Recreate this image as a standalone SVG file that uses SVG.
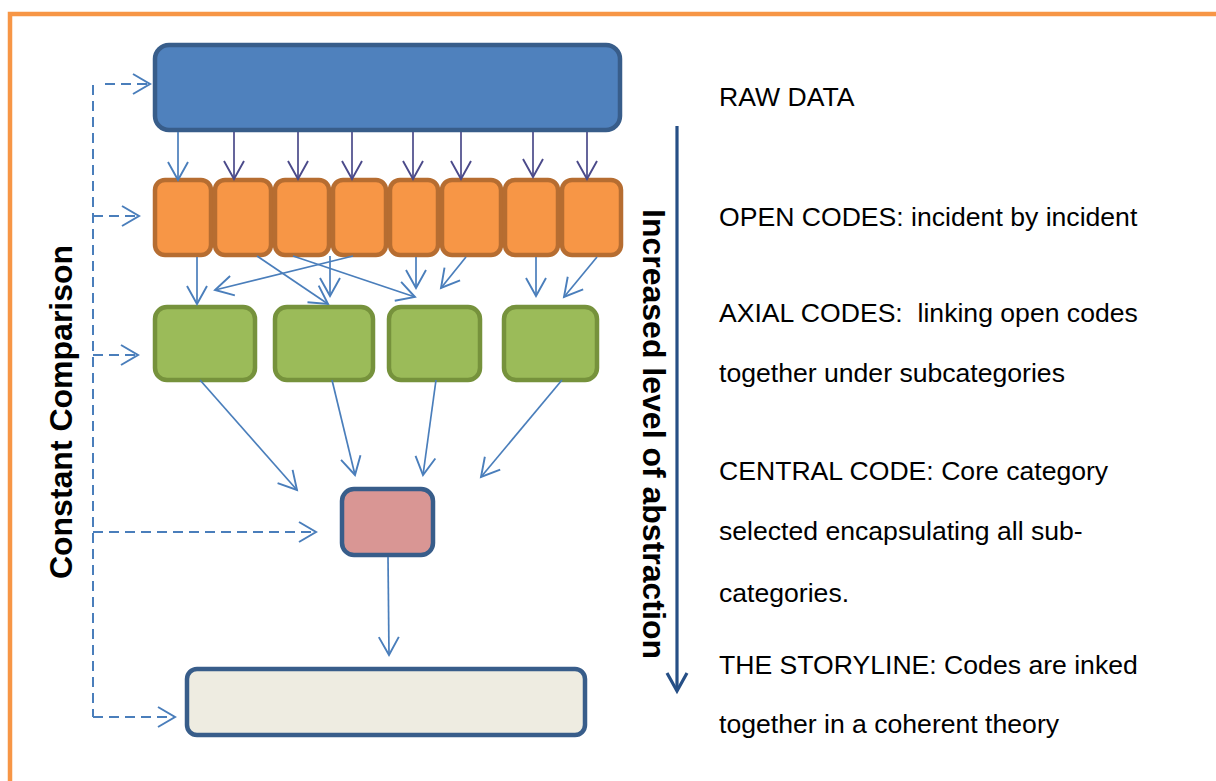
<svg xmlns="http://www.w3.org/2000/svg" width="1216" height="781" viewBox="0 0 1216 781">
<style>
.lbl{font-family:"Liberation Sans",Arial,sans-serif;font-size:26.6px;fill:#000}
.big{font-family:"Liberation Sans",Arial,sans-serif;font-size:32px;font-weight:bold;fill:#000}
.blue{fill:#4f81bd;stroke:#385d8a;stroke-width:4.5}
.orange{fill:#f79646;stroke:#b66d31;stroke-width:4.5}
.green{fill:#9bbb59;stroke:#76923c;stroke-width:4.5}
.pink{fill:#d99694;stroke:#385d8a;stroke-width:4.5}
.cream{fill:#eeece1;stroke:#385d8a;stroke-width:4.5}
.a{fill:none;stroke:#4a7ebb;stroke-width:1.7;marker-end:url(#ha)}
.p{fill:none;stroke:#4b4a8a;stroke-width:1.7;marker-end:url(#hp)}
.d{fill:none;stroke:#4a7ebb;stroke-width:2;stroke-dasharray:10 6}
.da{fill:none;stroke:#4a7ebb;stroke-width:2;stroke-dasharray:10 6;marker-end:url(#ha2)}
</style>
<defs>
<marker id="ha" markerUnits="userSpaceOnUse" viewBox="-20 -12 22 24" refX="0" refY="0" markerWidth="22" markerHeight="24" orient="auto" overflow="visible">
<path d="M-18,-10 L0,0 L-18,10" fill="none" stroke="#4a7ebb" stroke-width="1.9"/>
</marker>
<marker id="ha2" markerUnits="userSpaceOnUse" viewBox="-20 -12 22 24" refX="0" refY="0" markerWidth="22" markerHeight="24" orient="auto" overflow="visible">
<path d="M-17,-10 L0,0 L-17,10" fill="none" stroke="#4a7ebb" stroke-width="2" stroke-dasharray="none"/>
</marker>
<marker id="hp" markerUnits="userSpaceOnUse" viewBox="-20 -12 22 24" refX="0" refY="0" markerWidth="22" markerHeight="24" orient="auto" overflow="visible">
<path d="M-18,-10 L0,0 L-18,10" fill="none" stroke="#4b4a8a" stroke-width="1.9"/>
</marker>
<marker id="hb" markerUnits="userSpaceOnUse" viewBox="-22 -12 24 24" refX="0" refY="0" markerWidth="24" markerHeight="24" orient="auto" overflow="visible">
<path d="M-18,-10 L0,0 L-18,10" fill="none" stroke="#264f86" stroke-width="3.2"/>
</marker>
</defs>
<rect x="10" y="14" width="1230" height="790" fill="none" stroke="#f79646" stroke-width="4.5"/>

<g id="raw-data"><rect class="blue" x="155" y="45" width="465" height="85" rx="14"/></g>
<g id="open-codes">
<g id="open1"><rect class="orange" x="155" y="180" width="56" height="75" rx="10"/></g>
<g id="open2"><rect class="orange" x="215" y="180" width="56" height="75" rx="10"/></g>
<g id="open3"><rect class="orange" x="275" y="180" width="54" height="75" rx="10"/></g>
<g id="open4"><rect class="orange" x="333" y="180" width="53" height="75" rx="10"/></g>
<g id="open5"><rect class="orange" x="390" y="180" width="48" height="75" rx="10"/></g>
<g id="open6"><rect class="orange" x="442" y="180" width="59" height="75" rx="10"/></g>
<g id="open7"><rect class="orange" x="505" y="180" width="53" height="75" rx="10"/></g>
<g id="open8"><rect class="orange" x="562" y="180" width="59" height="75" rx="10"/></g>
</g>
<g id="axial-codes">
<g id="axial1"><rect class="green" x="155" y="307" width="100" height="73" rx="12"/></g>
<g id="axial2"><rect class="green" x="275" y="307" width="98" height="73" rx="12"/></g>
<g id="axial3"><rect class="green" x="389" y="307" width="91" height="73" rx="12"/></g>
<g id="axial4"><rect class="green" x="504" y="307" width="93" height="73" rx="12"/></g>
</g>
<g id="central-code"><rect class="pink" x="342" y="489" width="91" height="66" rx="12"/></g>
<g id="storyline"><rect class="cream" x="187" y="669" width="398" height="66" rx="10"/></g>

<g id="connectors">
<line class="a" x1="178" y1="132" x2="178" y2="180"/>
<line class="p" x1="234" y1="132" x2="234" y2="179"/>
<line class="p" x1="298" y1="132" x2="298" y2="179"/>
<line class="p" x1="352" y1="132" x2="352" y2="179"/>
<line class="p" x1="413" y1="132" x2="413" y2="179"/>
<line class="p" x1="461" y1="132" x2="461" y2="179"/>
<line class="p" x1="533" y1="132" x2="533" y2="177"/>
<line class="p" x1="587" y1="132" x2="587" y2="179"/>

<line class="a" x1="197" y1="257" x2="197" y2="304"/>
<line class="a" x1="353" y1="256" x2="215" y2="290"/>
<line class="a" x1="257" y1="256" x2="328" y2="304"/>
<line class="a" x1="330" y1="256" x2="330" y2="296"/>
<line class="a" x1="293" y1="256" x2="415" y2="297"/>
<line class="a" x1="416" y1="257" x2="416" y2="288"/>
<line class="a" x1="466" y1="257" x2="441" y2="288"/>
<line class="a" x1="536" y1="257" x2="536" y2="296"/>
<line class="a" x1="597" y1="257" x2="564" y2="297"/>

<line class="a" x1="200" y1="380" x2="297" y2="490"/>
<line class="a" x1="332" y1="380" x2="355" y2="475"/>
<line class="a" x1="436" y1="380" x2="423" y2="475"/>
<line class="a" x1="562" y1="380" x2="481" y2="477"/>

<line class="a" x1="388" y1="557" x2="389" y2="655"/>

<line class="d" x1="93" y1="85" x2="93" y2="717"/>
<line class="da" x1="105" y1="84" x2="150" y2="84"/>
<line class="da" x1="93" y1="216" x2="139" y2="216"/>
<line class="da" x1="93" y1="355" x2="138" y2="355"/>
<line class="da" x1="93" y1="532" x2="316" y2="532"/>
<line class="da" x1="93" y1="717" x2="175" y2="717"/>

<line x1="677" y1="126" x2="677" y2="691" stroke="#264f86" stroke-width="3.2" marker-end="url(#hb)"/>
</g>

<text class="big" text-anchor="middle" transform="translate(72,412) rotate(-90)">Constant Comparison</text>
<text class="big" text-anchor="middle" transform="translate(643,434) rotate(90)">Increased level of abstraction</text>

<text class="lbl" x="719" y="106">RAW DATA</text>
<text class="lbl" x="719" y="226">OPEN CODES: incident by incident</text>
<text class="lbl" x="719" y="322" xml:space="preserve">AXIAL CODES:  linking open codes</text>
<text class="lbl" x="719" y="382">together under subcategories</text>
<text class="lbl" x="719" y="480">CENTRAL CODE: Core category</text>
<text class="lbl" x="719" y="540">selected encapsulating all sub-</text>
<text class="lbl" x="719" y="602">categories.</text>
<text class="lbl" x="719" y="674">THE STORYLINE: Codes are inked</text>
<text class="lbl" x="719" y="733">together in a coherent theory</text>
</svg>
